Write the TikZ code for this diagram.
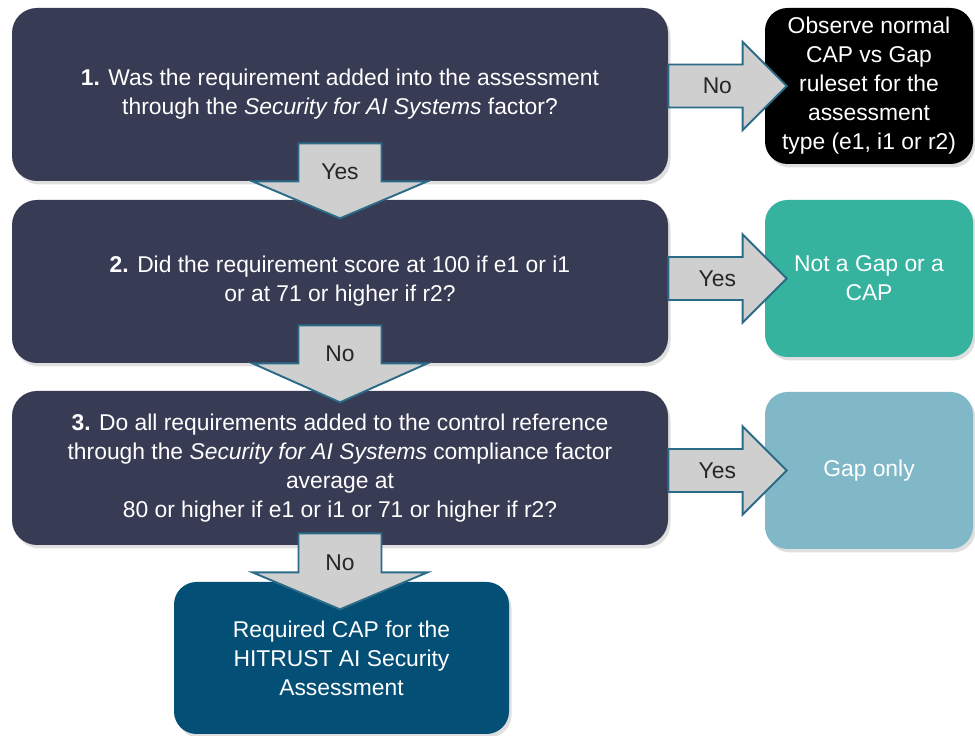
\documentclass[tikz,border=0pt]{standalone}
\usepackage{fontspec}
\setmainfont{Liberation Sans}
\usetikzlibrary{calc}
\usetikzlibrary{shadows}

\definecolor{qnavy}{RGB}{56,59,84}
\definecolor{okteal}{RGB}{53,179,158}
\definecolor{gapblue}{RGB}{128,184,200}
\definecolor{capblue}{RGB}{3,79,118}
\definecolor{arrowgray}{RGB}{207,207,207}
\definecolor{arrowedge}{RGB}{43,107,135}

\tikzset{
  qbox/.style={rectangle,rounded corners=0.5cm,fill=qnavy,text=white,align=center,
    minimum width=13.12cm,font=\fontsize{13pt}{16.5pt}\selectfont,
    drop shadow={opacity=0.25,shadow xshift=0.05cm,shadow yshift=-0.07cm}},
  abox/.style={rectangle,rounded corners=0.45cm,text=white,align=center,
    minimum width=4.16cm,minimum height=3.14cm,font=\fontsize{13pt}{16.5pt}\selectfont,
    drop shadow={opacity=0.25,shadow xshift=0.05cm,shadow yshift=-0.07cm}},
  flowarrow/.style={fill=arrowgray,draw=arrowedge,line width=1.1pt,line join=miter},
  flowlabel/.style={text=black!85,font=\fontsize{13pt}{16pt}\selectfont,inner sep=0pt}
}

\begin{document}
\begin{tikzpicture}
        \useasboundingbox (0,0) rectangle (19.5,14.72);
        %
        \node[qbox,minimum height=3.46cm] (question1) at (6.8,12.83) {\textbf{1.} Was the requirement added into the assessment\\through the \textit{Security for AI Systems} factor?};
        \node[qbox,minimum height=3.26cm] (question2) at (6.8,9.09) {\textbf{2.} Did the requirement score at 100 if e1 or i1\\or at 71 or higher if r2?};
        \node[qbox,minimum height=3.08cm] (question3) at (6.8,5.36) {\textbf{3.} Do all requirements added to the control reference\\through the \textit{Security for AI Systems} compliance factor\\average at\\80 or higher if e1 or i1 or 71 or higher if r2?};
        \node[abox,fill=capblue,minimum width=6.7cm,minimum height=3.04cm] (capreq) at (6.83,1.56) {Required CAP for the\\HITRUST AI Security\\Assessment};
        \node[abox,fill=black,minimum height=3.12cm] (observe) at (17.38,13.0) {Observe normal\\CAP vs Gap\\ruleset for the\\assessment\\type (e1, i1 or r2)};
        \node[abox,fill=okteal] (notgap) at (17.38,9.15) {Not a Gap or a\\CAP};
        \node[abox,fill=gapblue] (gaponly) at (17.38,5.31) {Gap only};
        %
        \draw[flowarrow] ($(question1.east |- observe.west)+(0,0.43)$) -- ($(observe.west)+(-0.44,0.43)$) -- ($(observe.west)+(-0.44,0.88)$) -- ($(observe.west)+(0.44,0)$) -- ($(observe.west)+(-0.44,-0.88)$) -- ($(observe.west)+(-0.44,-0.43)$) -- ($(question1.east |- observe.west)+(0,-0.43)$) -- cycle;
        \node[flowlabel] (label1no) at ($(question1.east |- observe.west)+(0.98,0)$) {No};
        \draw[flowarrow] ($(question2.east |- notgap.west)+(0,0.43)$) -- ($(notgap.west)+(-0.44,0.43)$) -- ($(notgap.west)+(-0.44,0.88)$) -- ($(notgap.west)+(0.44,0)$) -- ($(notgap.west)+(-0.44,-0.88)$) -- ($(notgap.west)+(-0.44,-0.43)$) -- ($(question2.east |- notgap.west)+(0,-0.43)$) -- cycle;
        \node[flowlabel] (label2yes) at ($(question2.east |- notgap.west)+(0.98,0)$) {Yes};
        \draw[flowarrow] ($(question3.east |- gaponly.west)+(0,0.43)$) -- ($(gaponly.west)+(-0.44,0.43)$) -- ($(gaponly.west)+(-0.44,0.88)$) -- ($(gaponly.west)+(0.44,0)$) -- ($(gaponly.west)+(-0.44,-0.88)$) -- ($(gaponly.west)+(-0.44,-0.43)$) -- ($(question3.east |- gaponly.west)+(0,-0.43)$) -- cycle;
        \node[flowlabel] (label3yes) at ($(question3.east |- gaponly.west)+(0.98,0)$) {Yes};
        %
        \draw[flowarrow] ($(question1.south)+(-0.83,0.76)$) -- ($(question1.south)+(0.83,0.76)$) -- ($(question1.south)+(0.83,0)$) -- ($(question1.south)+(1.75,0)$) -- ($(question1.south)+(0,-0.74)$) -- ($(question1.south)+(-1.75,0)$) -- ($(question1.south)+(-0.83,0)$) -- cycle;
        \node[flowlabel] (label1yes) at ($(question1.south)+(0,0.2)$) {Yes};
        \draw[flowarrow] ($(question2.south)+(-0.83,0.76)$) -- ($(question2.south)+(0.83,0.76)$) -- ($(question2.south)+(0.83,0)$) -- ($(question2.south)+(1.75,0)$) -- ($(question2.south)+(0,-0.78)$) -- ($(question2.south)+(-1.75,0)$) -- ($(question2.south)+(-0.83,0)$) -- cycle;
        \node[flowlabel] (label2no) at ($(question2.south)+(0,0.2)$) {No};
        \draw[flowarrow] ($(question3.south)+(-0.83,0.24)$) -- ($(question3.south)+(0.83,0.24)$) -- ($(question3.south)+(0.83,-0.54)$) -- ($(question3.south)+(1.75,-0.54)$) -- ($(question3.south)+(0,-1.28)$) -- ($(question3.south)+(-1.75,-0.54)$) -- ($(question3.south)+(-0.83,-0.54)$) -- cycle;
        \node[flowlabel] (label3no) at ($(question3.south)+(0,-0.34)$) {No};
        %
\end{tikzpicture}
\end{document}
